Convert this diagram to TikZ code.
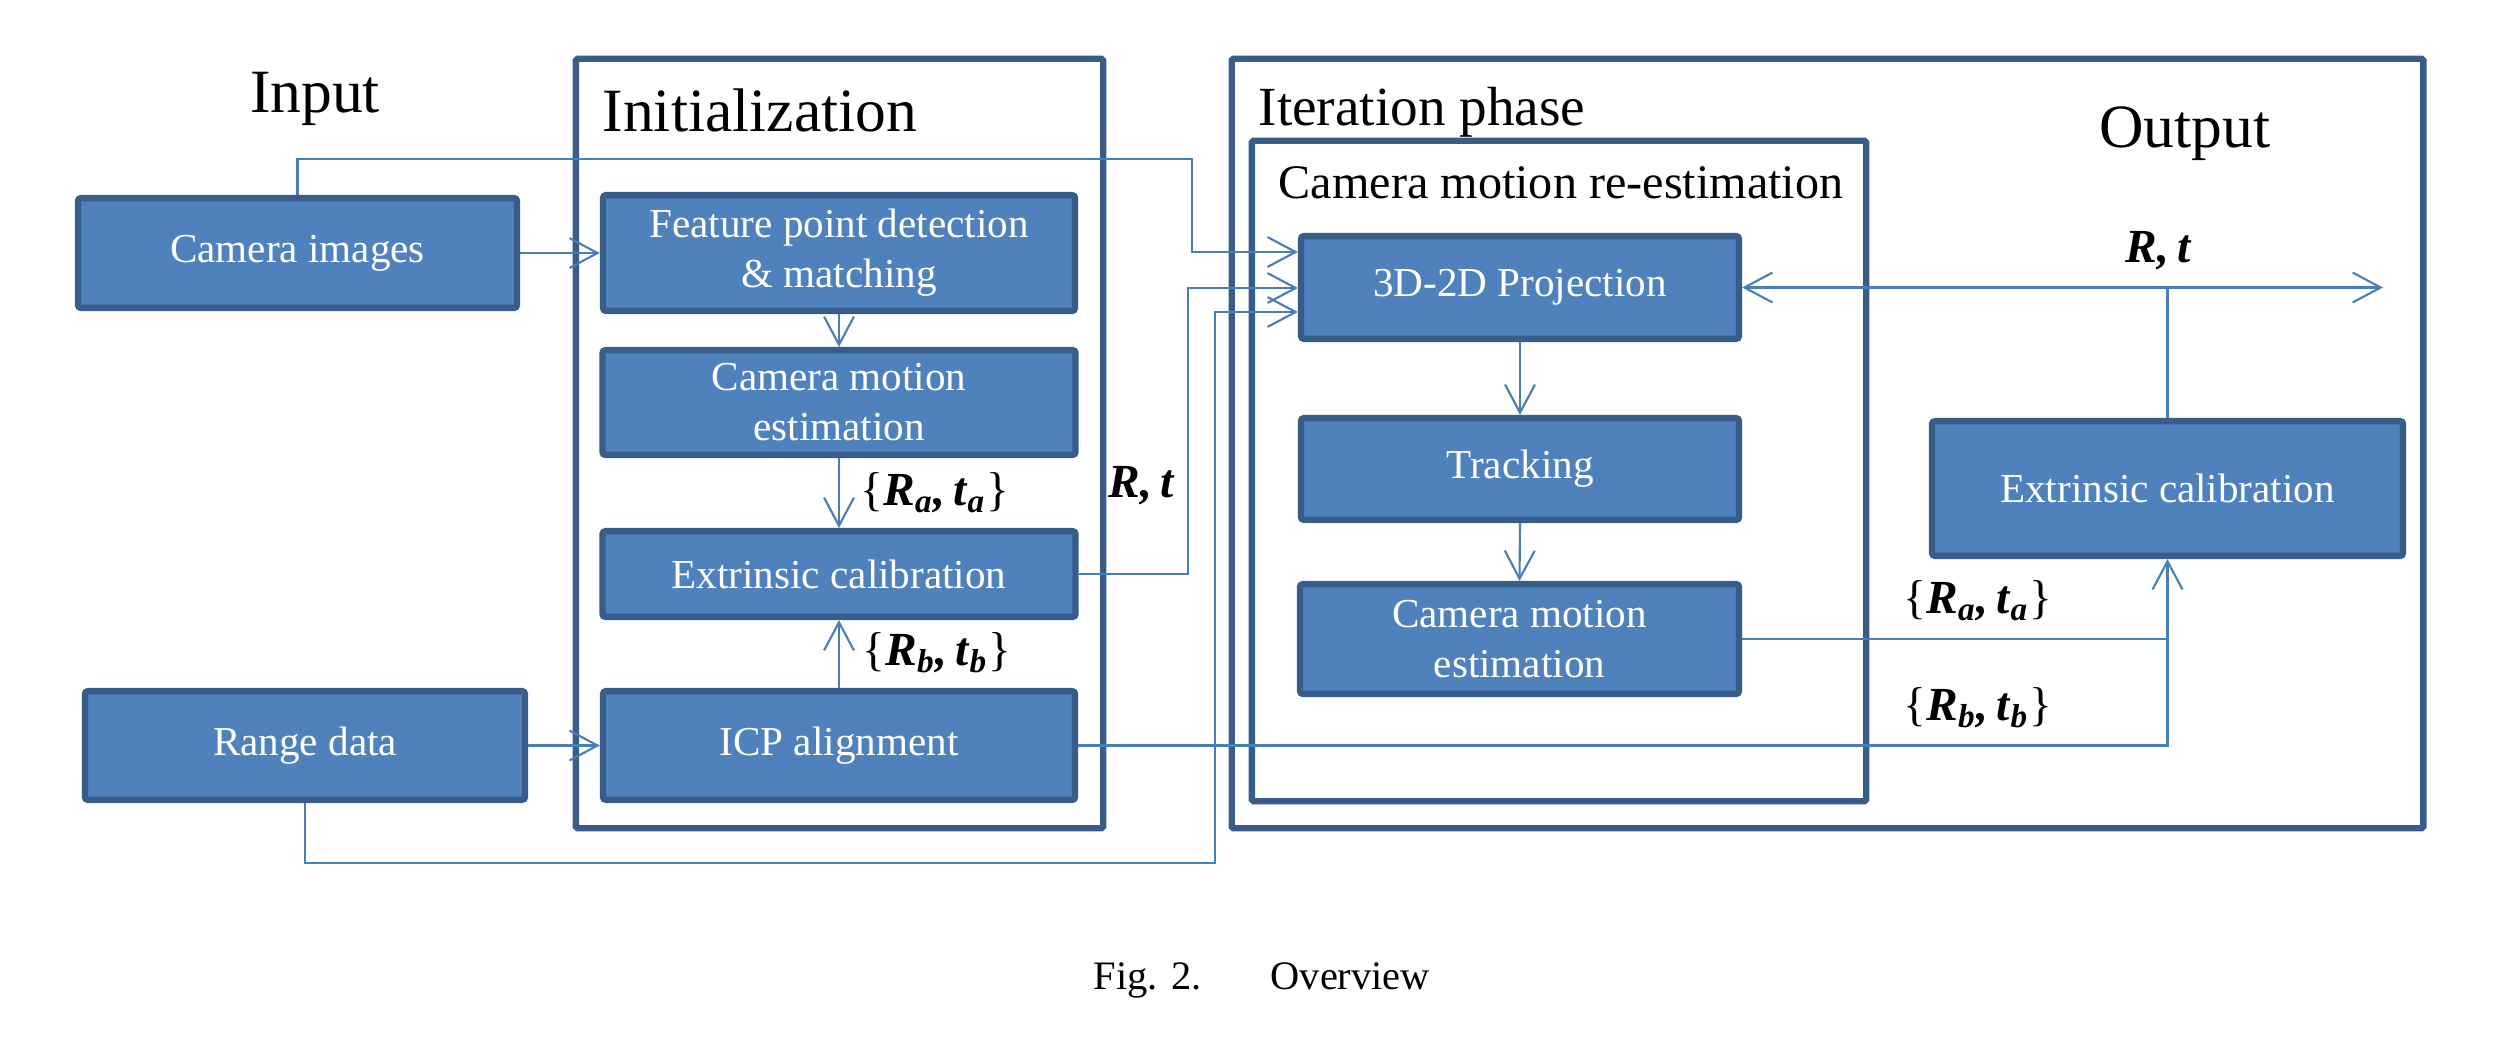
\documentclass[tikz,border=0pt]{standalone}
\usepackage{fontspec}
\setmainfont{Liberation Serif}
\usetikzlibrary{arrows.meta}
\definecolor{boxfill}{HTML}{4F81BD}
\definecolor{boxline}{HTML}{385D8A}
\definecolor{connc}{HTML}{4A7EBB}
\newcommand{\bv}[1]{\textbf{\textit{#1}}}
\newcommand{\pairlbl}[1]{\{\bv{R}\textsubscript{\bv{#1}}\bv{,}\,\bv{t}\textsubscript{\bv{#1}}\}}
\begin{document}
\begin{tikzpicture}[x=0.01cm,y=-0.01cm,
  blk/.style={draw=boxline, fill=boxfill, line width=1.8pt, rounded corners=0.8pt,
    text=white, font=\fontsize{11.7}{14.2}\selectfont, align=center, inner sep=0pt},
  cont/.style={draw=boxline, line width=1.8pt, inner sep=0pt, rounded corners=0.5pt},
  title/.style={font=\fontsize{17.5}{20}\selectfont, inner sep=0pt},
  lbl/.style={font=\fontsize{13.5}{16}\selectfont, inner sep=0pt, anchor=base west},
  tip/.style={Straight Barb[length=8pt,width=8.5pt]},
  conn/.style={draw=connc, line width=0.6pt, -{Straight Barb[length=8pt,width=8.5pt]}},
  plain/.style={draw=connc, line width=0.6pt}]
\useasboundingbox (0,0) rectangle (2494,1038);

% containers
\node[cont, minimum width=5.27cm, minimum height=7.69cm] (init) at (839.5,443.5) {};
\node[cont, minimum width=11.91cm, minimum height=7.69cm] (iter) at (1827.5,443.5) {};
\node[cont, minimum width=6.14cm, minimum height=6.60cm] (cmre) at (1559,471) {};

% titles
\node[title, anchor=base] (tin) at (315,112) {Input};
\node[title, anchor=base west] (tinit) at (602,131) {Initialization};
\node[font=\fontsize{15.7}{18}\selectfont, inner sep=0pt, anchor=base west] (titer) at (1258,125) {Iteration phase};
\node[font=\fontsize{13.7}{16}\selectfont, inner sep=0pt, anchor=base west] (tcmre) at (1278,198) {Camera motion re-estimation};
\node[title, anchor=base] (tout) at (2185,147) {Output};

% blocks
\node[blk, minimum width=4.45cm-1.8pt, minimum height=1.16cm-1.8pt] (camimg) at (297.5,253) {Camera images};
\node[blk, minimum width=4.46cm-1.8pt, minimum height=1.15cm-1.8pt] (range) at (305,745.5) {Range data};
\node[blk, minimum width=4.78cm-1.8pt, minimum height=1.22cm-1.8pt] (feat) at (839,253) {Feature point detection\\\& matching};
\node[blk, minimum width=4.79cm-1.8pt, minimum height=1.11cm-1.8pt] (cmea) at (839,402.5) {Camera motion\\estimation};
\node[blk, minimum width=4.79cm-1.8pt, minimum height=0.92cm-1.8pt] (exta) at (839,574) {Extrinsic calibration};
\node[blk, minimum width=4.78cm-1.8pt, minimum height=1.15cm-1.8pt] (icp) at (839,745.5) {ICP alignment};
\node[blk, minimum width=4.44cm-1.8pt, minimum height=1.09cm-1.8pt] (proj) at (1520,287.5) {3D-2D Projection};
\node[blk, minimum width=4.44cm-1.8pt, minimum height=1.08cm-1.8pt] (track) at (1520,469) {Tracking};
\node[blk, minimum width=4.45cm-1.8pt, minimum height=1.16cm-1.8pt] (cmeb) at (1519.5,639) {Camera motion\\estimation};
\node[blk, minimum width=4.77cm-1.8pt, minimum height=1.41cm-1.8pt] (extb) at (2167.5,488.5) {Extrinsic calibration};

% bend points
\coordinate (b1) at (1192,159);
\coordinate (b2) at (1192,252);
\coordinate (b3) at (1188,288);
\coordinate (b4) at (1215,863);
\coordinate (b5) at (1215,312);
\coordinate (outtip) at (2383,287.5);

% connectors
\draw[conn] (camimg.east) -- (feat.west);
\draw[conn] (range.east) -- (icp.west);
\draw[conn] (feat.south) -- (cmea.north);
\draw[conn] (cmea.south) -- (exta.north);
\draw[conn] (icp.north) -- (exta.south);
\draw[conn] (camimg.north) |- (b1) -- (b2) -- (b2 -| proj.west);
\draw[conn] (exta.east) -| (b3) -- (b3 -| proj.west);
\draw[conn] (range.south) |- (b4) -- (b5) -- (b5 -| proj.west);
\draw[conn] (proj.south) -- (track.north);
\draw[conn] (track.south) -- (cmeb.north);
\draw[conn] (icp.east) -| (extb.south);
\draw[plain] (cmeb.east) -- (cmeb.east -| extb.south);
\draw[plain] (extb.north) -- (extb.north |- proj.east);
\draw[draw=connc, line width=0.6pt, {Straight Barb[length=8pt,width=8.5pt]}-{Straight Barb[length=8pt,width=8.5pt]}] (proj.east) -- (outtip);

% labels
\node[lbl] (lrt1) at (1108,497) {\bv{R}\bv{,}\,\bv{t}};
\node[lbl] (lrt2) at (2125,262) {\bv{R}\bv{,}\,\bv{t}};
\node[lbl] (la1) at (860,505) {\pairlbl{a}};
\node[lbl] (lb1) at (862,665) {\pairlbl{b}};
\node[lbl] (la2) at (1903,613) {\pairlbl{a}};
\node[lbl] (lb2) at (1903,720) {\pairlbl{b}};

% caption
\node[font=\fontsize{11.5}{13}\selectfont, inner sep=0pt, anchor=base] (cap) at (1262,989) {Fig. 2.\hspace{1.7em}Overview};
\end{tikzpicture}
\end{document}
